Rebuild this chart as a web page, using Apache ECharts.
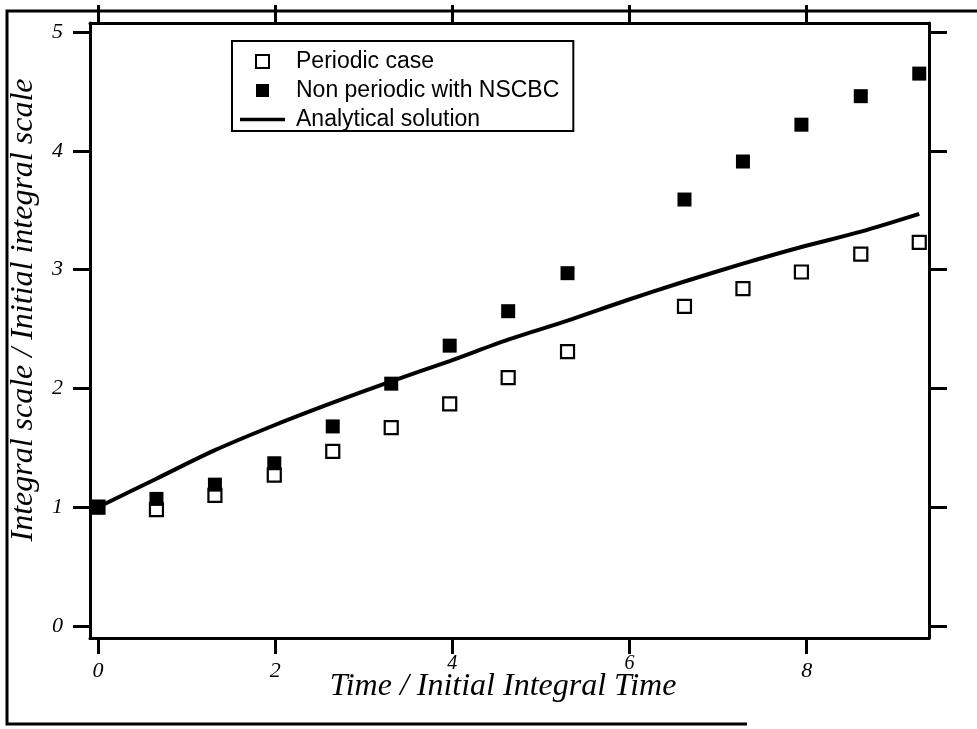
<!DOCTYPE html>
<html>
<head>
<meta charset="utf-8">
<script src="https://cdn.jsdelivr.net/npm/echarts@6/dist/echarts.min.js"></script>
<style>
  html, body { margin: 0; padding: 0; background: #fff; }
  #chart { width: 977px; height: 729px; }
</style>
</head>
<body>
<div id="chart"></div>
<script>
// ---- data ----
const timeValues        = [0, 0.66, 1.32, 1.99, 2.65, 3.31, 3.97, 4.63, 5.30, 6.62, 7.28, 7.94, 8.61, 9.27];
const periodicValues    = [1.00, 0.98, 1.10, 1.27, 1.47, 1.67, 1.87, 2.09, 2.31, 2.69, 2.84, 2.98, 3.13, 3.23];
const nonPeriodicValues = [1.00, 1.07, 1.19, 1.37, 1.68, 2.04, 2.36, 2.65, 2.97, 3.59, 3.91, 4.22, 4.46, 4.65];
const analyticalTime    = [0, 0.66, 1.32, 1.99, 2.65, 3.31, 3.97, 4.63, 5.30, 5.96, 6.62, 7.28, 7.94, 8.61, 9.27];
const analyticalValues  = [1.00, 1.24, 1.48, 1.69, 1.88, 2.06, 2.23, 2.41, 2.57, 2.74, 2.90, 3.05, 3.19, 3.32, 3.47];
const xTickValues = [0, 2, 4, 6, 8];
const xLabelsLow  = [0, 2, 8];
const xLabelsHigh = [4, 6];
const yTickValues = [0, 1, 2, 3, 4, 5];
const seriesNames = ['Periodic case', 'Non periodic with NSCBC', 'Analytical solution'];
const xTitle = 'Time / Initial Integral Time';
const yTitle = 'Integral scale / Initial integral scale';

const zip = (a, b) => a.map((v, i) => [v, b[i]]);
const serif = '"Liberation Serif", "DejaVu Serif", serif';
const sans = '"Liberation Sans", Arial, sans-serif';

const squareIcon = 'path://M0,0L10,0L10,10L0,10Z';
const lineIcon = 'path://M0,0L45,0L45,3.5L0,3.5Z';

const chart = echarts.init(document.getElementById('chart'), null, { renderer: 'canvas' });

const lineStyleAxis = { color: '#000', width: 3 };
const X_MIN = -0.09, X_MAX = 9.38;

chart.setOption({
  animation: false,
  backgroundColor: '#fff',
  grid: { left: 90, top: 23, right: 48, bottom: 91, containLabel: false },
  legend: {
    orient: 'vertical',
    left: 232,
    top: 41,
    padding: [9, 14, 0, 8],
    itemGap: 6,
    itemWidth: 45,
    itemHeight: 13,
    symbolKeepAspect: true,
    borderColor: '#000',
    borderWidth: 2,
    backgroundColor: '#fff',
    data: [
      { name: seriesNames[0], icon: squareIcon },
      { name: seriesNames[1], icon: squareIcon },
      { name: seriesNames[2], icon: lineIcon }
    ],
    textStyle: { fontFamily: sans, fontSize: 23, color: '#000', padding: [0, 0, 0, 6] }
  },
  xAxis: [
    {
      type: 'value', position: 'bottom',
      min: X_MIN, max: X_MAX,
      name: xTitle, nameLocation: 'middle', nameGap: 33, nameMoveOverlap: false,
      nameTextStyle: { fontFamily: serif, fontStyle: 'italic', fontSize: 32, color: '#000', padding: [0, 13, 0, 0] },
      axisLine: { show: true, onZero: false, lineStyle: lineStyleAxis },
      axisTick: { show: true, inside: false, length: 16, customValues: xTickValues, lineStyle: { color: '#000', width: 3 } },
      axisLabel: { show: true, customValues: xLabelsLow, margin: 22, fontFamily: serif, fontStyle: 'italic', fontSize: 22, color: '#000' },
      splitLine: { show: false }
    },
    {
      type: 'value', position: 'top',
      min: X_MIN, max: X_MAX,
      axisLine: { show: true, onZero: false, lineStyle: lineStyleAxis },
      axisTick: { show: true, inside: false, length: 18, customValues: xTickValues, lineStyle: { color: '#000', width: 3 } },
      axisLabel: { show: false },
      splitLine: { show: false }
    },
    {
      type: 'value', position: 'bottom', offset: 0,
      min: X_MIN, max: X_MAX,
      axisLine: { show: false, onZero: false },
      axisTick: { show: false },
      axisLabel: { show: true, customValues: xLabelsHigh, margin: 16, fontFamily: serif, fontStyle: 'italic', fontSize: 20, color: '#000' },
      splitLine: { show: false }
    }
  ],
  yAxis: [
    {
      type: 'value', position: 'left',
      min: -0.101, max: 5.076,
      axisLine: { show: true, onZero: false, lineStyle: lineStyleAxis },
      axisTick: { show: true, inside: false, length: 17, customValues: yTickValues, lineStyle: { color: '#000', width: 3 } },
      axisLabel: { show: true, customValues: yTickValues, margin: 27, fontFamily: serif, fontStyle: 'italic', fontSize: 22, color: '#000' },
      splitLine: { show: false }
    },
    {
      type: 'value', position: 'right',
      min: -0.101, max: 5.076,
      axisLine: { show: true, onZero: false, lineStyle: lineStyleAxis },
      axisTick: { show: true, inside: false, length: 18, customValues: yTickValues, lineStyle: { color: '#000', width: 3 } },
      axisLabel: { show: false },
      splitLine: { show: false }
    }
  ],
  series: [
    {
      name: seriesNames[2],
      type: 'line',
      xAxisIndex: 0, yAxisIndex: 0,
      data: zip(analyticalTime, analyticalValues),
      symbol: 'none',
      smooth: 0.3,
      lineStyle: { color: '#000', width: 4 },
      itemStyle: { color: '#000' },
      z: 2
    },
    {
      name: seriesNames[0],
      type: 'scatter',
      xAxisIndex: 0, yAxisIndex: 0,
      data: zip(timeValues, periodicValues),
      symbol: 'rect',
      symbolSize: 13,
      itemStyle: { color: '#fff', borderColor: '#000', borderWidth: 2.2, opacity: 1 },
      z: 3
    },
    {
      name: seriesNames[1],
      type: 'scatter',
      xAxisIndex: 0, yAxisIndex: 0,
      data: zip(timeValues, nonPeriodicValues),
      symbol: 'rect',
      symbolSize: 14,
      itemStyle: { color: '#000', borderColor: '#000', borderWidth: 0, opacity: 1 },
      z: 4
    }
  ],
  graphic: [
    {
      type: 'polyline',
      shape: { points: [[747, 724], [7, 724], [7, 11], [977, 11]] },
      style: { stroke: '#000', lineWidth: 3, fill: null },
      silent: true, z: 0
    },
    {
      type: 'text',
      x: 24, y: 310,
      rotation: Math.PI / 2,
      style: {
        text: yTitle,
        font: 'italic 32px "Liberation Serif", "DejaVu Serif", serif',
        fill: '#000',
        align: 'center',
        verticalAlign: 'middle'
      },
      silent: true
    }
  ]
});
</script>
</body>
</html>
